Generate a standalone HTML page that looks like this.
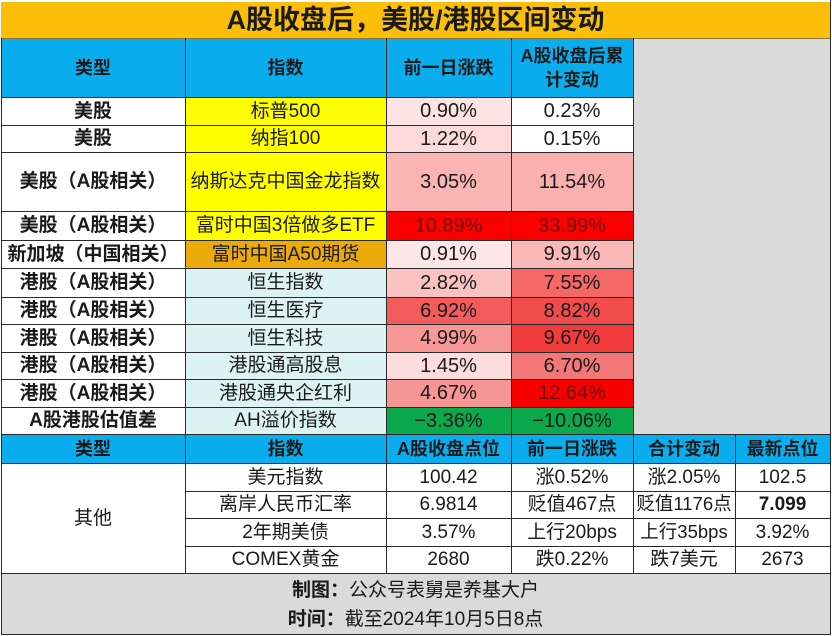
<!DOCTYPE html>
<html>
<head>
<meta charset="utf-8">
<style>
  html,body{margin:0;padding:0;background:#fff;}
  body{width:832px;height:636px;position:relative;overflow:hidden;
    font-family:"Liberation Sans","Noto Sans CJK SC",sans-serif;color:#1a1a1a;}
  .c{position:absolute;display:flex;align-items:center;justify-content:center;
    font-size:19px;line-height:1;white-space:nowrap;text-align:center;}
  .n{font-size:20px;}
  .b{font-weight:bold;}
  .h{font-weight:bold;font-size:18px;}
  .hl{position:absolute;height:1.5px;background:#2a2a2a;}
  .vl{position:absolute;width:1.5px;background:#2a2a2a;}
  .dr{color:#6e0606;}
</style>
</head>
<body>
<!-- title -->
<div class="c b" style="left:1px;top:2px;width:829px;height:36px;background:#FBBF0A;font-size:27px;">A股收盘后，美股/港股区间变动</div>

<!-- gray region -->
<div class="c" style="left:633px;top:38px;width:197px;height:396px;background:#DADADA;"></div>

<!-- header 1 -->
<div class="c h" style="left:1px;top:38px;width:184px;height:59px;background:#0AAEEE;">类型</div>
<div class="c h" style="left:185px;top:38px;width:201px;height:59px;background:#0AAEEE;">指数</div>
<div class="c h" style="left:386px;top:38px;width:125px;height:59px;background:#0AAEEE;">前一日涨跌</div>
<div class="c h" style="left:511px;top:38px;width:122px;height:59px;background:#0AAEEE;line-height:24px;">A股收盘后累<br>计变动</div>

<!-- row 1 -->
<div class="c b" style="left:1px;top:97px;width:184px;height:28px;">美股</div>
<div class="c" style="left:185px;top:97px;width:201px;height:28px;background:#FFFF00;">标普500</div>
<div class="c n" style="left:386px;top:97px;width:125px;height:28px;background:#FDE4E4;">0.90%</div>
<div class="c n" style="left:511px;top:97px;width:122px;height:28px;background:#FFFFFF;">0.23%</div>
<!-- row 2 -->
<div class="c b" style="left:1px;top:125px;width:184px;height:27px;">美股</div>
<div class="c" style="left:185px;top:125px;width:201px;height:27px;background:#FFFF00;">纳指100</div>
<div class="c n" style="left:386px;top:125px;width:125px;height:27px;background:#FCDADA;">1.22%</div>
<div class="c n" style="left:511px;top:125px;width:122px;height:27px;background:#FFFFFF;">0.15%</div>
<!-- row 3 -->
<div class="c b" style="left:1px;top:152px;width:184px;height:59px;">美股（A股相关）</div>
<div class="c" style="left:185px;top:152px;width:201px;height:59px;background:#FFFF00;">纳斯达克中国金龙指数</div>
<div class="c n" style="left:386px;top:152px;width:125px;height:59px;background:#FBB4B4;">3.05%</div>
<div class="c n" style="left:511px;top:152px;width:122px;height:59px;background:#FBB0B0;">11.54%</div>
<!-- row 4 -->
<div class="c b" style="left:1px;top:211px;width:184px;height:29px;">美股（A股相关）</div>
<div class="c" style="left:185px;top:211px;width:201px;height:29px;background:#FFFF00;">富时中国3倍做多ETF</div>
<div class="c n dr" style="left:386px;top:211px;width:125px;height:29px;background:#FC0000;">10.89%</div>
<div class="c n dr" style="left:511px;top:211px;width:122px;height:29px;background:#FC0000;">33.99%</div>
<!-- row 5 -->
<div class="c b" style="left:1px;top:240px;width:184px;height:28px;">新加坡（中国相关）</div>
<div class="c" style="left:185px;top:240px;width:201px;height:28px;background:#EBA90C;">富时中国A50期货</div>
<div class="c n" style="left:386px;top:240px;width:125px;height:28px;background:#FDE6E6;">0.91%</div>
<div class="c n" style="left:511px;top:240px;width:122px;height:28px;background:#FBB8B8;">9.91%</div>
<!-- row 6 -->
<div class="c b" style="left:1px;top:268px;width:184px;height:29px;">港股（A股相关）</div>
<div class="c" style="left:185px;top:268px;width:201px;height:29px;background:#DDF3F2;">恒生指数</div>
<div class="c n" style="left:386px;top:268px;width:125px;height:29px;background:#FBC2C2;">2.82%</div>
<div class="c n" style="left:511px;top:268px;width:122px;height:29px;background:#F46868;">7.55%</div>
<!-- row 7 -->
<div class="c b" style="left:1px;top:297px;width:184px;height:27px;">港股（A股相关）</div>
<div class="c" style="left:185px;top:297px;width:201px;height:27px;background:#DDF3F2;">恒生医疗</div>
<div class="c n" style="left:386px;top:297px;width:125px;height:27px;background:#F25C5C;">6.92%</div>
<div class="c n" style="left:511px;top:297px;width:122px;height:27px;background:#F24B4B;">8.82%</div>
<!-- row 8 -->
<div class="c b" style="left:1px;top:324px;width:184px;height:28px;">港股（A股相关）</div>
<div class="c" style="left:185px;top:324px;width:201px;height:28px;background:#DDF3F2;">恒生科技</div>
<div class="c n" style="left:386px;top:324px;width:125px;height:28px;background:#F79797;">4.99%</div>
<div class="c n" style="left:511px;top:324px;width:122px;height:28px;background:#F23B3B;">9.67%</div>
<!-- row 9 -->
<div class="c b" style="left:1px;top:352px;width:184px;height:27px;">港股（A股相关）</div>
<div class="c" style="left:185px;top:352px;width:201px;height:27px;background:#DDF3F2;">港股通高股息</div>
<div class="c n" style="left:386px;top:352px;width:125px;height:27px;background:#FCDCDC;">1.45%</div>
<div class="c n" style="left:511px;top:352px;width:122px;height:27px;background:#F47777;">6.70%</div>
<!-- row 10 -->
<div class="c b" style="left:1px;top:379px;width:184px;height:28px;">港股（A股相关）</div>
<div class="c" style="left:185px;top:379px;width:201px;height:28px;background:#DDF3F2;">港股通央企红利</div>
<div class="c n" style="left:386px;top:379px;width:125px;height:28px;background:#F69595;">4.67%</div>
<div class="c n dr" style="left:511px;top:379px;width:122px;height:28px;background:#F80000;">12.64%</div>
<!-- row 11 -->
<div class="c b" style="left:1px;top:407px;width:184px;height:27px;">A股港股估值差</div>
<div class="c" style="left:185px;top:407px;width:201px;height:27px;background:#DDF3F2;">AH溢价指数</div>
<div class="c n" style="left:386px;top:407px;width:125px;height:27px;background:#0BA84C;">−3.36%</div>
<div class="c n" style="left:511px;top:407px;width:122px;height:27px;background:#0BA84C;">−10.06%</div>

<!-- header 2 -->
<div class="c h" style="left:1px;top:434px;width:184px;height:29px;background:#0AAEEE;">类型</div>
<div class="c h" style="left:185px;top:434px;width:201px;height:29px;background:#0AAEEE;">指数</div>
<div class="c h" style="left:386px;top:434px;width:125px;height:29px;background:#0AAEEE;">A股收盘点位</div>
<div class="c h" style="left:511px;top:434px;width:122px;height:29px;background:#0AAEEE;">前一日涨跌</div>
<div class="c h" style="left:633px;top:434px;width:102px;height:29px;background:#0AAEEE;">合计变动</div>
<div class="c h" style="left:735px;top:434px;width:95px;height:29px;background:#0AAEEE;">最新点位</div>

<!-- bottom rows -->
<div class="c" style="left:1px;top:463px;width:184px;height:110px;">其他</div>

<div class="c" style="left:185px;top:463px;width:201px;height:28px;">美元指数</div>
<div class="c" style="left:386px;top:463px;width:125px;height:28px;">100.42</div>
<div class="c" style="left:511px;top:463px;width:122px;height:28px;">涨0.52%</div>
<div class="c" style="left:633px;top:463px;width:102px;height:28px;">涨2.05%</div>
<div class="c" style="left:735px;top:463px;width:95px;height:28px;">102.5</div>

<div class="c" style="left:185px;top:491px;width:201px;height:27px;">离岸人民币汇率</div>
<div class="c" style="left:386px;top:491px;width:125px;height:27px;">6.9814</div>
<div class="c" style="left:511px;top:491px;width:122px;height:27px;">贬值467点</div>
<div class="c" style="left:633px;top:491px;width:102px;height:27px;font-size:18.5px;">贬值1176点</div>
<div class="c b" style="left:735px;top:491px;width:95px;height:27px;">7.099</div>

<div class="c" style="left:185px;top:518px;width:201px;height:28px;">2年期美债</div>
<div class="c" style="left:386px;top:518px;width:125px;height:28px;">3.57%</div>
<div class="c" style="left:511px;top:518px;width:122px;height:28px;">上行20bps</div>
<div class="c" style="left:633px;top:518px;width:102px;height:28px;font-size:18.5px;">上行35bps</div>
<div class="c" style="left:735px;top:518px;width:95px;height:28px;">3.92%</div>

<div class="c" style="left:185px;top:546px;width:201px;height:27px;">COMEX黄金</div>
<div class="c" style="left:386px;top:546px;width:125px;height:27px;">2680</div>
<div class="c" style="left:511px;top:546px;width:122px;height:27px;">跌0.22%</div>
<div class="c" style="left:633px;top:546px;width:102px;height:27px;">跌7美元</div>
<div class="c" style="left:735px;top:546px;width:95px;height:27px;">2673</div>

<!-- footer -->
<div class="c" style="left:1px;top:573px;width:829px;height:61px;background:#DADADA;"></div>
<div class="c" style="left:1px;top:576px;width:829px;height:28px;"><span class="b">制图：</span>公众号表舅是养基大户</div>
<div class="c" style="left:1px;top:605px;width:829px;height:28px;"><span class="b">时间：</span>截至2024年10月5日8点</div>

<!-- horizontal lines -->
<div class="hl" style="left:1px;top:37.5px;width:829px;height:1px;background:#8a7a40;"></div>
<div class="hl" style="left:1px;top:96.5px;width:632px;"></div>
<div class="hl" style="left:1px;top:124.5px;width:632px;"></div>
<div class="hl" style="left:1px;top:151.5px;width:632px;"></div>
<div class="hl" style="left:1px;top:210.5px;width:632px;"></div>
<div class="hl" style="left:1px;top:239.5px;width:632px;"></div>
<div class="hl" style="left:1px;top:267.5px;width:632px;"></div>
<div class="hl" style="left:1px;top:296.5px;width:632px;"></div>
<div class="hl" style="left:1px;top:323.5px;width:632px;"></div>
<div class="hl" style="left:1px;top:351.5px;width:632px;"></div>
<div class="hl" style="left:1px;top:378.5px;width:632px;"></div>
<div class="hl" style="left:1px;top:406.5px;width:632px;"></div>
<div class="hl" style="left:1px;top:433.5px;width:830px;"></div>
<div class="hl" style="left:1px;top:462.5px;width:830px;"></div>
<div class="hl" style="left:185px;top:490.5px;width:646px;"></div>
<div class="hl" style="left:185px;top:517.5px;width:646px;"></div>
<div class="hl" style="left:185px;top:545.5px;width:646px;"></div>
<div class="hl" style="left:1px;top:572.5px;width:830px;"></div>
<div class="hl" style="left:1px;top:633.5px;width:830px;"></div>

<!-- vertical lines -->
<div class="vl" style="left:0.5px;top:38px;height:597px;"></div>
<div class="vl" style="left:829.5px;top:0px;height:635px;"></div>
<div class="vl" style="left:184.5px;top:38px;height:535px;"></div>
<div class="vl" style="left:385.5px;top:38px;height:535px;"></div>
<div class="vl" style="left:510.5px;top:38px;height:535px;"></div>
<div class="vl" style="left:632.5px;top:38px;height:535px;"></div>
<div class="vl" style="left:734.5px;top:434px;height:139px;"></div>
</body>
</html>
